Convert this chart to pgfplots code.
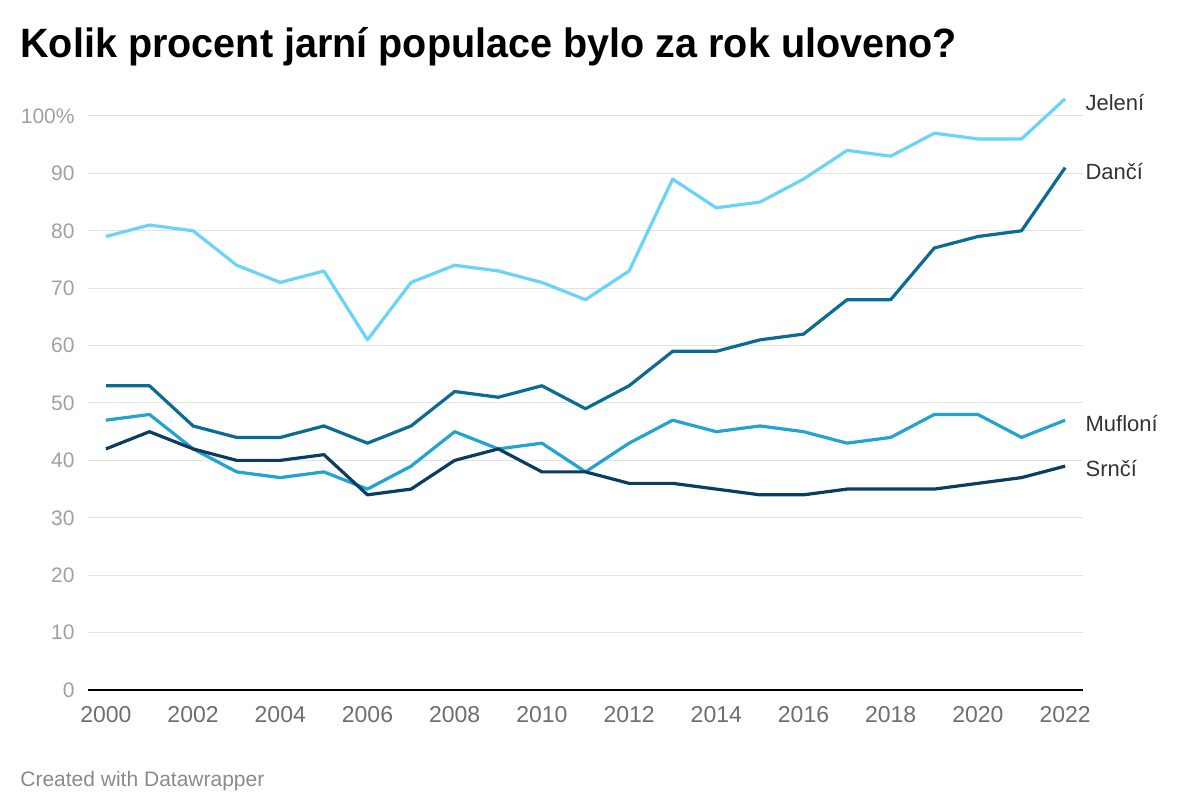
\documentclass[border=0pt]{standalone}
\usepackage{fontspec}
\setmainfont{Liberation Sans}
\newfontfamily\titlefont{Liberation Sans}[FakeStretch=0.965]
\usepackage{pgfplots}
\pgfplotsset{compat=1.18}
\definecolor{cJel}{HTML}{6AD4F8}
\definecolor{cDan}{HTML}{0B6B93}
\definecolor{cMuf}{HTML}{22A3D0}
\definecolor{cSrn}{HTML}{0B3D63}
\definecolor{gridc}{HTML}{E2E2E2}
\definecolor{ytc}{HTML}{A0A0A0}
\definecolor{xtc}{HTML}{6E6E6E}
\definecolor{labc}{HTML}{333333}
\definecolor{footc}{HTML}{8A8A8A}
\begin{document}
\begin{tikzpicture}
\useasboundingbox (-44pt,-61pt) rectangle (556pt,345pt);
\begin{axis}[
  at={(0,0)}, anchor=south west,
  scale only axis, width=497.5pt, height=287pt,
  xmin=1999.59, xmax=2022.41, ymin=0, ymax=100,
  clip=false,
  axis line style={draw=none},
  major tick length=0pt,
  ymajorgrids, grid style={gridc, line width=0.5pt},
  ytick={0,10,...,100},
  yticklabels={0,10,20,30,40,50,60,70,80,90,100\%},
  xtick={2000,2002,...,2022},
  /pgf/number format/assume math mode=true,
  /pgf/number format/set thousands separator={},
  xticklabel style={font=\fontsize{11.5}{13}\selectfont, text=xtc, anchor=north, inner sep=0pt, yshift=-8pt},
  yticklabel style={font=\fontsize{10.5}{12}\selectfont, text=ytc, anchor=east, inner sep=0pt, xshift=-6.5pt},
  every axis plot/.append style={line width=1.6pt, line join=round, mark=none},
]
\addplot[cJel] coordinates {(2000,79)(2001,81)(2002,80)(2003,74)(2004,71)(2005,73)(2006,61)(2007,71)(2008,74)(2009,73)(2010,71)(2011,68)(2012,73)(2013,89)(2014,84)(2015,85)(2016,89)(2017,94)(2018,93)(2019,97)(2020,96)(2021,96)(2022,103)};
\addplot[cDan] coordinates {(2000,53)(2001,53)(2002,46)(2003,44)(2004,44)(2005,46)(2006,43)(2007,46)(2008,52)(2009,51)(2010,53)(2011,49)(2012,53)(2013,59)(2014,59)(2015,61)(2016,62)(2017,68)(2018,68)(2019,77)(2020,79)(2021,80)(2022,91)};
\addplot[cMuf] coordinates {(2000,47)(2001,48)(2002,42)(2003,38)(2004,37)(2005,38)(2006,35)(2007,39)(2008,45)(2009,42)(2010,43)(2011,38)(2012,43)(2013,47)(2014,45)(2015,46)(2016,45)(2017,43)(2018,44)(2019,48)(2020,48)(2021,44)(2022,47)};
\addplot[cSrn] coordinates {(2000,42)(2001,45)(2002,42)(2003,40)(2004,40)(2005,41)(2006,34)(2007,35)(2008,40)(2009,42)(2010,38)(2011,38)(2012,36)(2013,36)(2014,35)(2015,34)(2016,34)(2017,35)(2018,35)(2019,35)(2020,36)(2021,37)(2022,39)};
\draw[black, line width=1pt] (rel axis cs:0,0) -- (rel axis cs:1,0);
\begin{scope}[every node/.style={anchor=west, inner sep=0pt, text=labc, font=\fontsize{11}{13}\selectfont}]
\node at (axis cs:2022.46,102.3) {Jelení};
\node at (axis cs:2022.46,90.4) {Dančí};
\node at (axis cs:2022.46,46.5) {Mufloní};
\node at (axis cs:2022.46,38.5) {Srnčí};
\end{scope}
\end{axis}
\node[anchor=base west, inner sep=0pt, font=\titlefont\fontsize{20.5}{24}\selectfont\bfseries] at (-34pt,316pt) {Kolik procent jarní populace bylo za rok uloveno?};
\node[anchor=base west, inner sep=0pt, text=footc, font=\fontsize{10.5}{12}\selectfont] at (-34pt,-48.5pt) {Created with Datawrapper};
\end{tikzpicture}
\end{document}
